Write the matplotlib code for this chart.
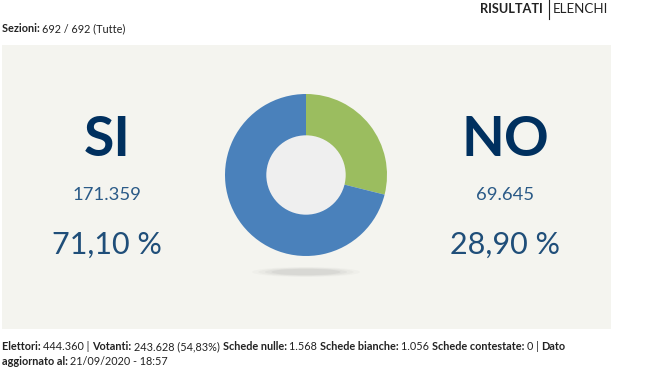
import matplotlib
matplotlib.use("Agg")
import matplotlib.pyplot as plt
from matplotlib.patches import Rectangle, Circle, Ellipse

# ---- data ----
labels = ["SI", "NO"]
votes = ["171.359", "69.645"]
percents = ["71,10 %", "28,90 %"]
shares = [71.10, 28.90]
pie_colors = ["#4a81bb", "#9bbd5f"]

header_line = [("Sezioni: ", True), ("692 / 692 (Tutte)", False)]
footer_line1 = [("Elettori: ", True), ("444.360 | ", False), ("Votanti: ", True),
                ("243.628 (54,83%) ", False), ("Schede nulle: ", True), ("1.568 ", False),
                ("Schede bianche: ", True), ("1.056 ", False), ("Schede contestate: ", True),
                ("0 | ", False), ("Dato", True)]
footer_line2 = [("aggiornato al: ", True), ("21/09/2020 - 18:57", False)]

FONT = "Lato"
W, H = 653, 367
fig = plt.figure(figsize=(W / 100, H / 100), dpi=100)
fig.patch.set_facecolor("white")
ax = fig.add_axes([0, 0, 1, 1])
ax.set_xlim(0, W)
ax.set_ylim(H, 0)
ax.axis("off")

# panel
ax.add_patch(Rectangle((2, 45), 609, 284, facecolor="#f4f4ef", edgecolor="none", zorder=0))

# shadow under donut
for i, a in enumerate([0.05, 0.07, 0.09, 0.12]):
    s = 1 - i * 0.12
    ax.add_patch(Ellipse((306, 272), 108 * s, 10 * s, facecolor="#9a9a9a", alpha=a,
                         edgecolor="none", zorder=1))

navy = "#00305f"
mid = "#2a5a87"

xs = [107, 505]
for x, lab, v, p in zip(xs, labels, votes, percents):
    ax.text(x, 140, lab, ha="center", va="center", fontsize=40, fontweight="bold",
            color=navy, family=FONT)
    ax.text(x, 195, v, ha="center", va="center", fontsize=13.3, color=mid, family=FONT)
    ax.text(x, 245, p, ha="center", va="center", fontsize=22, color="#1f4e79", family=FONT)

fig.canvas.draw()
renderer = fig.canvas.get_renderer()


def draw_runs(runs, x0, y, size, color="#222222"):
    x = x0
    for txt, bold in runs:
        t = ax.text(x, y, txt, ha="left", va="center", fontsize=size,
                    fontweight="bold" if bold else "normal", color=color, family=FONT)
        bb = t.get_window_extent(renderer=renderer)
        x += bb.width  # 1 px == 1 data unit horizontally
    return x


draw_runs(header_line, 2, 29, 7.8)
draw_runs(footer_line1, 2, 347, 7.85)
draw_runs(footer_line2, 2, 361.5, 7.85)

# top-right nav
ax.text(543, 9, "RISULTATI", ha="right", va="center", fontsize=9.2, fontweight="bold",
        color="#222222", family=FONT)
ax.plot([549, 549], [0, 19], color="#222222", lw=0.8)
ax.text(553, 9, "ELENCHI", ha="left", va="center", fontsize=9.6, color="#222222", family=FONT)

# donut
cx, cy, r = 306, 175, 81
pax = fig.add_axes([(cx - r) / W, (H - cy - r) / H, 2 * r / W, 2 * r / H])
pax.pie(shares[::-1], colors=pie_colors[::-1], startangle=90, counterclock=False,
        radius=1, wedgeprops=dict(width=0.52, edgecolor="none"))
pax.add_patch(Circle((0, 0), 0.49, facecolor="#efefef", edgecolor="none"))
pax.set_xlim(-1, 1)
pax.set_ylim(-1, 1)
pax.set_aspect("equal")
pax.axis("off")

fig.savefig("out.png", dpi=100)
